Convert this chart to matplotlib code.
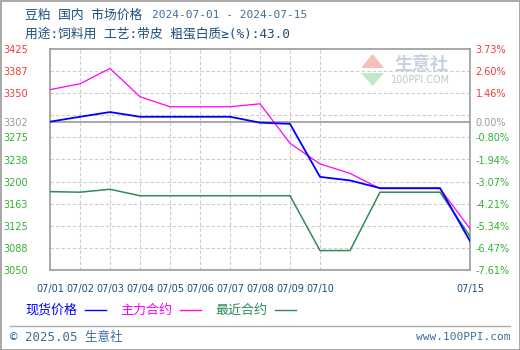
import matplotlib.pyplot as plt
from matplotlib.patches import Rectangle, Polygon
from matplotlib.lines import Line2D

plt.rcParams['font.family'] = ['Noto Sans CJK SC', 'DejaVu Sans']
MIXED = ['DejaVu Sans Mono', 'Noto Sans CJK SC']

# 2024-07-01 .. 2024-07-15, one value per calendar day
days = list(range(1, 16))
spot = [3301.67, 3310, 3318, 3310, 3310, 3310, 3310, 3300, 3298, 3208, 3202, 3189, 3189, 3189, 3099]
main = [3356, 3366, 3392, 3344, 3327, 3327, 3327, 3332, 3265, 3230, 3214, 3188, 3188, 3188, 3120]
near = [3183, 3182, 3187, 3176, 3176, 3176, 3176, 3176, 3176, 3083, 3083, 3182, 3182, 3182, 3107]

base = 3301.67
xtick_days = [1, 2, 3, 4, 5, 6, 7, 8, 9, 10, 15]
xtick_labels = ['07/01', '07/02', '07/03', '07/04', '07/05', '07/06', '07/07',
                '07/08', '07/09', '07/10', '07/15']
grid_y = [3387.5, 3350, 3312.5, 3275, 3237.5, 3200, 3162.5, 3125, 3087.5]
ytick_pos = [3425, 3387.5, 3350, base, 3275, 3237.5, 3200, 3162.5, 3125, 3087.5, 3050]
ytick_left = ['3425', '3387', '3350', '3302', '3275', '3238', '3200', '3163', '3125', '3088', '3050']
ytick_right = ['3.73%', '2.60%', '1.46%', '0.00%', '-0.80%', '-1.94%', '-3.07%',
               '-4.21%', '-5.34%', '-6.47%', '-7.61%']

RED = '#f03a3a'
GRAY = '#999999'
GREEN = '#33b033'
NAVY = '#1a4f7f'
STEEL = '#3d6e9a'


def tick_color(v):
    if abs(v - base) < 1:
        return GRAY
    return RED if v > base else GREEN


fig = plt.figure(figsize=(5.2, 3.5), dpi=100)
W, H = 520, 350
ax = fig.add_axes([50 / W, 1 - 270 / H, 420 / W, 221 / H])

for g in grid_y:
    ax.axhline(g, color='#cccccc', lw=0.8, ls=(0, (3, 2)), zorder=1)
for d in range(2, 11):
    ax.axvline(d, color='#cccccc', lw=0.8, ls=(0, (3, 2)), zorder=1)
ax.axhline(base, color='#999999', lw=1.2, zorder=2)

ax.plot(days, near, color='#2e8b57', lw=1.1, zorder=3)
ax.plot(days, main, color='#ff00ff', lw=0.9, zorder=4)
ax.plot(days, spot, color='#0000ff', lw=1.3, zorder=5)

ax.set_xlim(1, 15)
ax.set_ylim(3050, 3425)
for s in ax.spines.values():
    s.set_color('#999999')
    s.set_linewidth(1.2)

ax.set_xticks(xtick_days)
ax.set_xticklabels(xtick_labels, fontsize=7, color=NAVY, family='DejaVu Sans')
ax.tick_params(axis='x', length=0, pad=10)

ax.set_yticks(ytick_pos)
ax.set_yticklabels(ytick_left, fontsize=7, family='DejaVu Sans')
ax.tick_params(axis='y', length=0, pad=16)
for lab, v in zip(ax.get_yticklabels(), ytick_pos):
    lab.set_color(tick_color(v))

ax2 = ax.twinx()
ax2.set_ylim(3050, 3425)
ax2.set_yticks(ytick_pos)
ax2.set_yticklabels(ytick_right, fontsize=7, family='DejaVu Sans')
ax2.tick_params(axis='y', length=0, pad=4)
for lab, v in zip(ax2.get_yticklabels(), ytick_pos):
    lab.set_color(tick_color(v))
for s in ax2.spines.values():
    s.set_visible(False)


def px(x, y):
    return x / W, 1 - y / H


# watermark
fig.patches.append(Polygon([px(361, 68), px(384, 68), px(372.5, 54)], closed=True,
                           transform=fig.transFigure, facecolor='#f4c0b8', edgecolor='none'))
fig.patches.append(Polygon([px(361, 73), px(384, 73), px(372.5, 86)], closed=True,
                           transform=fig.transFigure, facecolor='#c2e8c8', edgecolor='none'))
fig.text(*px(421, 65), '生意社', fontsize=13, color='#c9d0e0', ha='center', va='center',
         weight='bold')
fig.text(*px(421, 80), '100PPI.COM', fontsize=7, color='#c4c4c4', ha='center', va='center',
         family='DejaVu Sans')

# header
fig.text(*px(25, 15), '豆粕 国内 市场价格', fontsize=9.2, color=NAVY, va='center', family=MIXED)
fig.text(*px(152, 15), '2024-07-01 - 2024-07-15', fontsize=8, color=STEEL, va='center',
         family='DejaVu Sans Mono')
fig.text(*px(25, 34), '用途:饲料用 工艺:带皮 粗蛋白质≥(%):43.0', fontsize=9.2, color=NAVY,
         va='center', family=MIXED)

# legend
legend_items = [('现货价格', '#0000ff', 25), ('主力合约', '#ff00ff', 120), ('最近合约', '#2e8b57', 215)]
for name, col, x0 in legend_items:
    fig.text(*px(x0, 310), name, fontsize=9.4, color=col, va='center')
    fig.lines.append(Line2D([(x0 + 60) / W, (x0 + 81) / W], [1 - 310 / H] * 2,
                            transform=fig.transFigure, color=col, lw=1))

# footer
fig.lines.append(Line2D([10 / W, 510 / W], [1 - 326 / H] * 2, transform=fig.transFigure,
                        color='#aaaaaa', lw=1))
fig.text(*px(10, 337), '© 2025.05 生意社', fontsize=9, color=STEEL, va='center', family=MIXED)
fig.text(*px(510, 337), 'www.100PPI.com', fontsize=8, color=STEEL, va='center', ha='right',
         family='DejaVu Sans Mono')

fig.patches.append(Rectangle((0.5 / W, 0.5 / H), 519 / W, 349 / H, transform=fig.transFigure,
                             fill=False, edgecolor='#999999', lw=1.2))

fig.savefig('out.png', dpi=100)
